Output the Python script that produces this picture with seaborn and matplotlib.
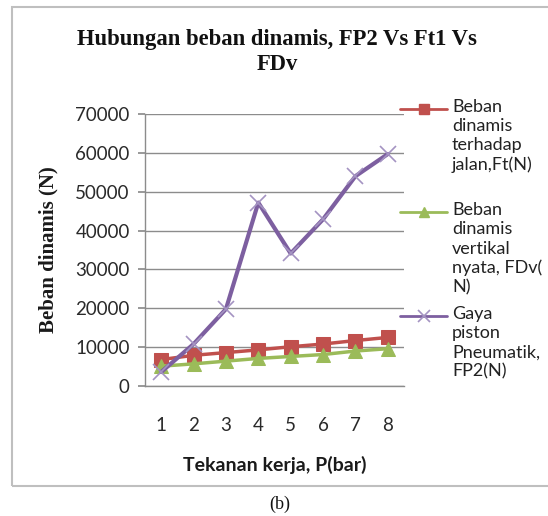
import matplotlib
matplotlib.use("Agg")
import matplotlib.pyplot as plt
import seaborn as sns
import pandas as pd
from matplotlib.lines import Line2D
from matplotlib.patches import Rectangle

pressure = [1, 2, 3, 4, 5, 6, 7, 8]
ft = [6800, 7900, 8600, 9300, 10100, 10800, 11700, 12500]
fdv = [5100, 5700, 6400, 7100, 7600, 8100, 9000, 9600]
fp2 = [3600, 10800, 19800, 47200, 34100, 42900, 54000, 59700]
labels = ["Beban\ndinamis\nterhadap\njalan,Ft(N)",
          "Beban\ndinamis\nvertikal\nnyata, FDv(\nN)",
          "Gaya\npiston\nPneumatik,\nFP2(N)"]
title = "Hubungan beban dinamis, FP2 Vs Ft1 Vs\nFDv"
xlabel = "Tekanan kerja, P(bar)"
ylabel = "Beban dinamis (N)"
yticks = [0, 10000, 20000, 30000, 40000, 50000, 60000, 70000]

sns.set_theme(style="white")
plt.rcParams['font.family'] = ['Lato', 'DejaVu Sans']

W, H = 548, 516
fig = plt.figure(figsize=(W / 100, H / 100), dpi=100)
ax = fig.add_axes([145 / W, 1 - 386 / H, (404 - 145) / W, (386 - 114) / H])

colors = ["#C0504D", "#9BBB59", "#7D5FA0"]
series = [ft, fdv, fp2]
marker_kw = [dict(marker="s", markersize=10, markeredgecolor="#C0504D", markerfacecolor="#C0504D"),
             dict(marker="^", markersize=10, markeredgecolor="#9BBB59", markerfacecolor="#9BBB59"),
             dict(marker="x", markersize=12, markeredgecolor="#A493C2", markeredgewidth=1.2)]
lws = [2.5, 2.5, 3.0]
for vals, c, mk, lw in zip(series, colors, marker_kw, lws):
    df = pd.DataFrame({"x": pressure, "y": vals})
    sns.lineplot(data=df, x="x", y="y", ax=ax, color=c, linewidth=lw, **mk)

ax.set_xlim(0.5, 8.5)
ax.set_ylim(0, 70000)
ax.set_yticks(yticks)
ax.set_yticklabels([str(v) for v in yticks])
ax.set_xticks(pressure)
ax.set_xticklabels([str(p) for p in pressure])
ax.yaxis.grid(True, color="#8C8C8C", linewidth=1)
ax.xaxis.grid(False)
for s in ["top", "right"]:
    ax.spines[s].set_visible(False)
for s in ["left", "bottom"]:
    ax.spines[s].set_color("#8C8C8C")
    ax.spines[s].set_linewidth(1)
ax.tick_params(axis="y", which="both", left=True, length=5, color="#8C8C8C",
               labelsize=13.5, labelcolor="#2a2a2a", pad=6)
ax.tick_params(axis="x", bottom=False, labelsize=13.5, labelcolor="#2a2a2a", pad=16)
ax.set_xlabel(xlabel, fontsize=14, fontweight="bold", color="#1a1a1a", labelpad=16)
ax.set_ylabel(ylabel, fontsize=15, fontweight="bold", fontfamily="Liberation Serif",
              color="#1a1a1a", labelpad=12)

fig.text(277 / W, 1 - 52 / H, title, ha="center", va="center", fontsize=16.3,
         fontweight="bold", fontfamily="Liberation Serif", linespacing=1.2, color="#111111")

# chart frame
fig.patches.append(Rectangle((12 / W, 1 - 486 / H), 600 / W, (486 - 7) / H,
                             transform=fig.transFigure, fill=False,
                             edgecolor="#BFBFBF", linewidth=1.5))
fig.text(280 / W, 1 - 504 / H, "(b)", ha="center", va="center", fontsize=13,
         fontfamily="Liberation Serif", color="#111111")

# legend
hy = [109, 212, 316]
for lab, c, mk, y in zip(labels, colors, marker_kw, hy):
    yy = 1 - y / H
    mk2 = dict(mk)
    mk2["markersize"] = mk["markersize"] * 0.7
    fig.add_artist(Line2D([400 / W, 447 / W], [yy, yy], transform=fig.transFigure,
                          color=c, linewidth=2))
    fig.add_artist(Line2D([423.5 / W], [yy], transform=fig.transFigure,
                          linestyle="none", **mk2))
    fig.text(452 / W, yy + 10 / H, lab, ha="left", va="top", fontsize=13,
             linespacing=1.25, color="#222222")

fig.savefig("out.png", dpi=100)
